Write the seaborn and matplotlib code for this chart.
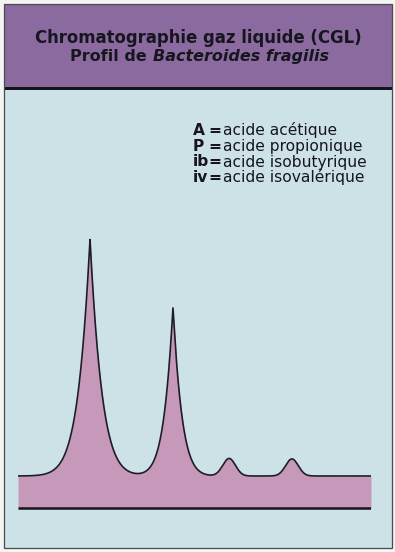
import numpy as np
import matplotlib
matplotlib.use("Agg")
import matplotlib.pyplot as plt
from matplotlib.patches import Rectangle
import seaborn as sns

# Peaks of the gas-liquid chromatogram (retention time in min, relative height)
peak_codes = ["A", "P", "ib", "iv"]
peak_names = ["acide acétique", "acide propionique", "acide isobutyrique", "acide isovalérique"]
retention_min = [2.04, 4.39, 5.98, 7.76]
peak_height = [100.0, 71.0, 7.4, 7.2]
tail_min = [0.35, 0.27, np.inf, np.inf]      # exponential tailing of each peak
spread_min = [1.2, 0.85, 0.255, 0.255]       # gaussian spread of each peak

title_line1 = "Chromatographie gaz liquide (CGL)"
title_prefix = "Profil de "
title_species = "Bacteroides fragilis"

W, H = 395, 552
sns.set_theme(style="white")
plt.rcParams["font.family"] = ["DejaVu Sans"]

fig = plt.figure(figsize=(W / 100, H / 100), dpi=100, facecolor="#f3f5f3")


def fx(px):
    return px / W


def fy(py):
    return 1 - py / H


def box(x0, y0, x1, y1, **kw):
    fig.patches.append(Rectangle((fx(x0), fy(y1)), fx(x1) - fx(x0), fy(y0) - fy(y1),
                                 transform=fig.transFigure, zorder=-5, **kw))


# Card: purple header, dark rule, pale blue body, thin frame
box(4, 4, 392, 548, facecolor="#cde2e7", edgecolor="none")
box(4, 4, 392, 87, facecolor="#8a6a9f", edgecolor="none")
box(4, 87, 392, 90, facecolor="#15131c", edgecolor="none")
box(4, 4, 392, 548, facecolor="none", edgecolor="#4a4a50", linewidth=0.9)

ink = "#17161f"
renderer = fig.canvas.get_renderer()

t0 = fig.text(fx(198), fy(43), title_line1, ha="center", va="baseline",
              fontsize=10.5, fontweight="bold", color=ink)
# fit the first title line to its width
w0 = t0.get_window_extent(renderer).width
t0.set_fontsize(10.5 * 330 / w0)

t1 = fig.text(0, fy(61), title_prefix, ha="left", va="baseline",
              fontsize=10.5, fontweight="bold", color=ink)
t2 = fig.text(0, fy(61), title_species, ha="left", va="baseline",
              fontsize=10.5, fontweight="bold", fontstyle="italic", color=ink)
w1 = t1.get_window_extent(renderer).width
w2 = t2.get_window_extent(renderer).width
k = 260 / (w1 + w2)
t1.set_fontsize(10.5 * k)
t2.set_fontsize(10.5 * k)
w1 *= k
w2 *= k
start = 200 - (w1 + w2) / 2
t1.set_x(fx(start))
t2.set_x(fx(start + w1))

# Key of the peaks
row_base = [135, 151, 166.5, 182]
key_size = 11.2
for code, name, yb in zip(peak_codes, peak_names, row_base):
    fig.text(fx(193), fy(yb), code, ha="left", va="baseline",
             fontsize=key_size, fontweight="bold", color=ink)
    fig.text(fx(208), fy(yb), "=", ha="left", va="baseline",
             fontsize=key_size, fontweight="bold", color=ink)
    fig.text(fx(223), fy(yb), name, ha="left", va="baseline",
             fontsize=key_size, color=ink)

# Chromatogram trace
t = np.linspace(0, 10, 2500)
signal = np.zeros_like(t)
for tr, h, tl, sp in zip(retention_min, peak_height, tail_min, spread_min):
    d = np.abs(t - tr)
    signal += h * np.exp(-d / tl - (d / sp) ** 2)

band_floor = -13.5
ax = fig.add_axes([fx(18), fy(512), fx(371) - fx(18), fy(230) - fy(512)])
ax.set_zorder(5)
ax.set_xlim(0, 10)
ax.set_ylim(-15.19, 103.8)
ax.axis("off")
ax.patch.set_alpha(0)

ax.fill_between(t, band_floor, signal, color="#c699bb", linewidth=0)
sns.lineplot(x=t, y=signal, ax=ax, color="#1e1c26", linewidth=1.2)
ax.plot([0, 10], [band_floor, band_floor], color="#15131c", linewidth=1.8,
        solid_capstyle="butt")

fig.savefig("out.png", dpi=100, facecolor=fig.get_facecolor())
